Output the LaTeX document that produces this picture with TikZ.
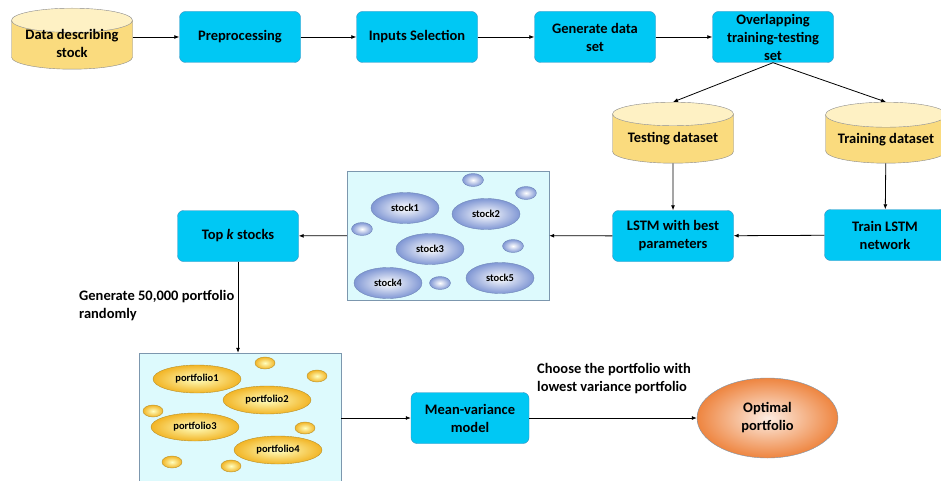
\documentclass[tikz,border=0pt]{standalone}
\usepackage{fontspec}
\setmainfont{Carlito}
\usetikzlibrary{shapes.geometric, arrows.meta, positioning}

\definecolor{boxcyan}{HTML}{00C8F4}
\definecolor{boxedge}{HTML}{3A8FC0}
\definecolor{cylbody}{HTML}{FADB7E}
\definecolor{cyltop}{HTML}{FEF1C4}
\definecolor{cyledge}{HTML}{8A8A8A}
\definecolor{panelfill}{HTML}{DDFAFD}
\definecolor{paneledge}{HTML}{7C97AE}
\definecolor{stockblue}{HTML}{8097D4}
\definecolor{stockedge}{HTML}{6F86B8}
\definecolor{portyellow}{HTML}{F2B526}
\definecolor{portedge}{HTML}{B8902A}
\definecolor{optorange}{HTML}{EE8540}

% text of a cylinder, set in the middle of its body
\newcommand{\cyltext}[1]{\raisebox{-2.5pt}[0pt][0pt]{\begin{tabular}{@{}c@{}}#1\end{tabular}}}

\tikzset{
	procbox/.style={rectangle, rounded corners=6pt, draw=boxedge, fill=boxcyan,
		minimum width=121pt, minimum height=51pt, align=center, inner sep=2pt,
		font=\bfseries\fontsize{14.5}{18}\selectfont},
	datacyl/.style={cylinder, shape border rotate=90, aspect=0.25, draw=cyledge,
		cylinder uses custom fill, cylinder body fill=cylbody, cylinder end fill=cyltop,
		minimum width=121pt, minimum height=61pt, inner sep=2pt,
		anchor=north, font=\bfseries\fontsize{14.5}{18}\selectfont},
	panel/.style={rectangle, draw=paneledge, fill=panelfill, minimum width=202pt},
	stockball/.style={ellipse, draw=stockedge, inner color=white, outer color=stockblue,
		minimum width=68pt, minimum height=31pt, inner sep=0pt,
		font=\bfseries\fontsize{10.5}{12}\selectfont},
	stockdot/.style={stockball, minimum width=21pt, minimum height=13pt},
	portball/.style={ellipse, draw=portedge, inner color=yellow!25, outer color=portyellow,
		minimum width=88pt, minimum height=28pt, inner sep=0pt,
		font=\bfseries\fontsize{10.5}{12}\selectfont},
	portdot/.style={portball, minimum width=20pt, minimum height=12pt},
	note/.style={align=left, anchor=north west, inner sep=0pt,
		font=\bfseries\fontsize{14.5}{18}\selectfont},
	flow/.style={-{Latex[length=5pt,width=4pt]}, thick}
}

\begin{document}
\begin{tikzpicture}[x=1pt, y=-1pt]
	\useasboundingbox (0,0) rectangle (941,481);

	% top row
	\node [datacyl] (data) at (72,8) {\cyltext{Data describing\\stock}};
	\node [procbox] (prep) at (240,37) {Preprocessing};
	\node [procbox] (inputs) at (417,37) {Inputs Selection};
	\node [procbox] (gen) at (595,37) {Generate data\\set};
	\node [procbox] (overlap) at (773,37) {Overlapping\\training-testing\\set};

	% datasets and LSTM
	\node [datacyl] (testing) at (673,102) {\cyltext{Testing dataset}};
	\node [datacyl] (training) at (886,102) {\cyltext{Training dataset}};
	\node [procbox] (lstm) at (673,236) {LSTM with best\\parameters};
	\node [procbox] (train) at (885,235) {Train LSTM\\network};

	% stock panel
	\node [panel, minimum height=129pt] (stocks) at (448,235.5) {};
	\node [stockdot] (sd1) at (473,180) {};
	\node [stockdot] (sd2) at (526,193) {};
	\node [stockdot] (sd3) at (362,229) {};
	\node [stockdot] (sd4) at (513,246) {};
	\node [stockdot] (sd5) at (440,283) {};
	\node [stockball] (s1) at (405,208) {stock1};
	\node [stockball] (s2) at (486,214) {stock2};
	\node [stockball] (s3) at (430,249) {stock3};
	\node [stockball] (s4) at (388,283) {stock4};
	\node [stockball] (s5) at (500,278) {stock5};

	\node [procbox] (topk) at (238,236) {Top \textit{k} stocks};

	% portfolio panel
	\node [panel, minimum height=132pt] (ports) at (240,419) {};
	\node [portdot] (pd1) at (265,363) {};
	\node [portdot] (pd2) at (317,376) {};
	\node [portdot] (pd3) at (153,411) {};
	\node [portdot] (pd4) at (305,428) {};
	\node [portdot] (pd5) at (172,462) {};
	\node [portdot] (pd6) at (231,466) {};
	\node [portball] (p1) at (197,379) {portfolio1};
	\node [portball] (p2) at (267,400) {portfolio2};
	\node [portball] (p3) at (195,427) {portfolio3};
	\node [portball] (p4) at (278,450) {portfolio4};

	\node [procbox, minimum width=118pt] (mv) at (470,418) {Mean-variance\\model};
	\node [ellipse, draw=paneledge, inner color=white!85!optorange, outer color=optorange,
		minimum width=141pt, minimum height=80pt, align=center,
		font=\bfseries\fontsize{14.5}{18}\selectfont] (opt) at (767.5,418) {Optimal\\portfolio};

	% notes
	\node [note] (gennote) at (79,290) {Generate 50,000 portfolio\\randomly};
	\node [note] (choose) at (537,363) {Choose the portfolio with\\lowest variance portfolio};

	% connectors
	\draw [flow] (data.east |- prep) -- (prep);
	\draw [flow] (prep) -- (inputs);
	\draw [flow] (inputs) -- (gen);
	\draw [flow] (gen) -- (overlap);
	\draw [flow] (overlap.south) -- (testing.north);
	\draw [flow] (overlap.south) -- (training.north);
	\draw [flow] (testing) -- (lstm);
	\draw [flow] (training) -- (train);
	\draw [flow] (train) -- (lstm);
	\draw [flow] (lstm) -- (stocks);
	\draw [flow] (stocks) -- (topk);
	\draw [flow] (topk.south) -- (topk.south |- ports.north);
	\draw [flow] (ports.east |- mv.west) -- (mv);
	\draw [flow] (mv) -- (opt);

\end{tikzpicture}
\end{document}
